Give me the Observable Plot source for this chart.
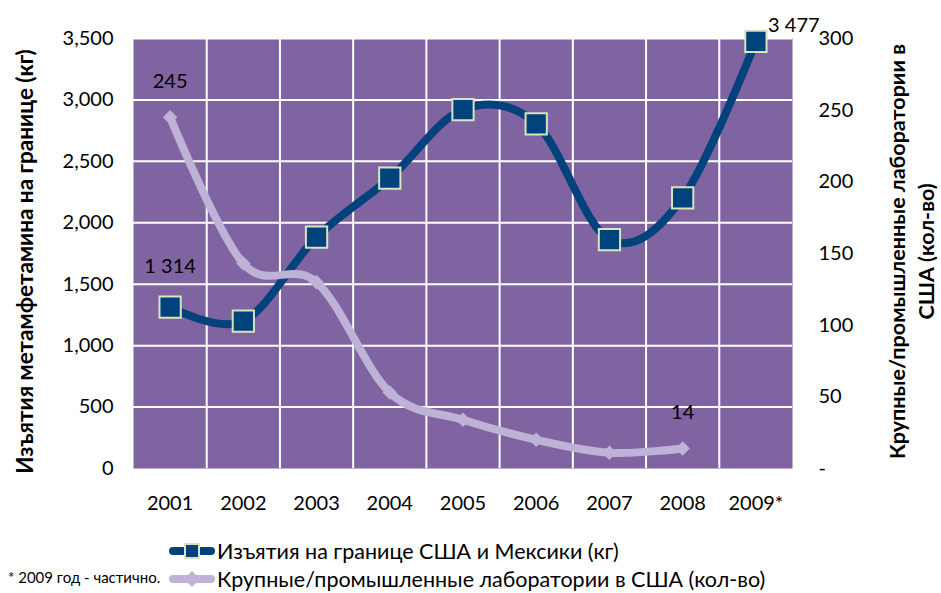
<!DOCTYPE html>
<html>
<head>
<meta charset="utf-8">
<script src="https://cdn.jsdelivr.net/npm/d3@7"></script>
<script src="https://cdn.jsdelivr.net/npm/@observablehq/plot@0.6"></script>
<style>
  body { margin: 0; background: white; font-family: Lato, "Open Sans", sans-serif; }
  #wrap { position: relative; width: 941px; height: 593px; }
  #legend { position: relative; width: 941px; height: 73px; }
  .lg { position: absolute; display: flex; align-items: center; font-size: 21.5px; color: #000; white-space: nowrap; }
  .note { position: absolute; font-size: 15px; color: #000; white-space: nowrap; }
</style>
</head>
<body>
<div id="wrap"></div>
<script>
const years = [2001, 2002, 2003, 2004, 2005, 2006, 2007, 2008, 2009];
const yearLabels = ["2001", "2002", "2003", "2004", "2005", "2006", "2007", "2008", "2009*"];
const seizures = [1314, 1200, 1883, 2363, 2922, 2806, 1862, 2203, 3477];
const labs = [245, 143, 130, 53, 34, 20, 11, 14, null];
const seizureLabelYears = [2001, 2009];
const labLabelYears = [2001, 2008];
const leftTicks = [0, 500, 1000, 1500, 2000, 2500, 3000, 3500];
const rightTicks = [0, 50, 100, 150, 200, 250, 300];
const seriesNames = ["Изъятия на границе США и Мексики (кг)", "Крупные/промышленные лаборатории в США (кол-во)"];
const leftTitle = "Изъятия метамфетамина на границе (кг)";
const rightTitle = "Крупные/промышленные лаборатории в\nСША (кол-во)";
const footnote = "* 2009 год - частично.";

const C_BG = "#8064A2", C_DARK = "#00427C", C_LIGHT = "#BFB2D7", C_EDGE = "#D7E4BD";
const k = 3500 / 300;
const fmtNum = v => d3.format(",")(v).replace(/,/g, " ");

const data = years.map((y, i) => ({year: y, seizures: seizures[i], labs: labs[i]}));
const labData = data.filter(d => d.labs != null);

const chart = Plot.plot({
  width: 941, height: 520,
  marginLeft: 133, marginRight: 149, marginTop: 38, marginBottom: 52,
  style: {fontFamily: "Lato, 'Open Sans', sans-serif", fontSize: "20px", color: "#000", background: "white", overflow: "visible"},
  x: {domain: [2000.5, 2009.5]},
  y: {domain: [0, 3500]},
  marks: [
    Plot.frame({fill: C_BG, stroke: null}),
    Plot.ruleY(leftTicks.filter(d => d > 0), {stroke: "white", strokeWidth: 2, strokeOpacity: 1}),
    Plot.ruleX(years.slice(1).map(y => y - 0.5), {stroke: "white", strokeWidth: 2, strokeOpacity: 1}),
    Plot.axisX(years, {tickSize: 0, tickPadding: 27, tickFormat: d => yearLabels[years.indexOf(d)], label: null, fontSize: 20}),
    Plot.axisY(leftTicks, {anchor: "left", tickSize: 0, tickPadding: 20, tickFormat: d3.format(","), label: null, fontSize: 20}),
    Plot.axisY(rightTicks.map(v => v * k), {anchor: "right", tickSize: 0, tickPadding: 26, textAnchor: "start",
      tickFormat: d => d === 0 ? "-" : String(Math.round(d / k)), label: null, fontSize: 20}),
    Plot.text([leftTitle], {frameAnchor: "left", dx: -108, dy: 8, rotate: -90, textAnchor: "middle", lineAnchor: "middle", fontWeight: "bold", fontSize: 22.5}),
    Plot.text([rightTitle], {frameAnchor: "right", dx: 118, dy: -2, rotate: -90, textAnchor: "middle", lineAnchor: "middle", fontWeight: "bold", fontSize: 21.5, lineHeight: 1.35}),
    Plot.line(data, {x: "year", y: "seizures", stroke: C_DARK, strokeWidth: 8, curve: "cardinal", tension: 0, strokeLinecap: "round", strokeLinejoin: "round"}),
    Plot.dot(data, {x: "year", y: "seizures", symbol: "square", r: 12, fill: C_DARK, stroke: C_EDGE, strokeWidth: 2}),
    Plot.line(labData, {x: "year", y: d => d.labs * k, stroke: C_LIGHT, strokeWidth: 8, curve: "cardinal", tension: 0, strokeLinecap: "round", strokeLinejoin: "round"}),
    Plot.dot(labData, {x: "year", y: d => d.labs * k, symbol: "diamond2", r: 6.5, fill: C_LIGHT}),
    Plot.text(data.filter(d => d.year === seizureLabelYears[0]), {x: "year", y: "seizures", text: d => fmtNum(d.seizures), dy: -40, fontSize: 20}),
    Plot.text(data.filter(d => d.year === seizureLabelYears[1]), {x: "year", y: "seizures", text: d => fmtNum(d.seizures), dx: 38, dy: -16, fontSize: 20}),
    Plot.text(labData.filter(d => d.year === labLabelYears[0]), {x: "year", y: d => d.labs * k, text: d => fmtNum(d.labs), dy: -36, fontSize: 20}),
    Plot.text(labData.filter(d => d.year === labLabelYears[1]), {x: "year", y: d => d.labs * k, text: d => fmtNum(d.labs), dy: -36, fontSize: 20})
  ]
});

const wrap = document.getElementById("wrap");
wrap.appendChild(chart);

const legend = document.createElement("div");
legend.id = "legend";
legend.innerHTML = `
  <div class="lg" style="left:168px; top:18px;">
    <svg width="48" height="20" style="margin-right:1px"><line x1="5" x2="43" y1="10" y2="10" stroke="${C_DARK}" stroke-width="8" stroke-linecap="round"/><rect x="17" y="3" width="14" height="14" fill="${C_DARK}" stroke="${C_EDGE}" stroke-width="2"/></svg>
    <span>${seriesNames[0]}</span>
  </div>
  <div class="lg" style="left:168px; top:46px;">
    <svg width="48" height="20" style="margin-right:1px"><line x1="5" x2="43" y1="10" y2="10" stroke="${C_LIGHT}" stroke-width="8" stroke-linecap="round"/><path d="M24,2 L32,10 L24,18 L16,10 Z" fill="${C_LIGHT}"/></svg>
    <span>${seriesNames[1]}</span>
  </div>
  <div class="note" style="left:8px; top:48px;">${footnote}</div>
`;
wrap.appendChild(legend);
</script>
</body>
</html>
